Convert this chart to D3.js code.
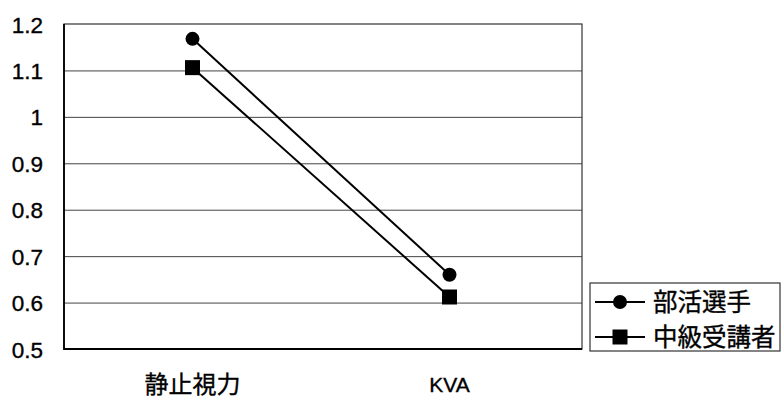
<!DOCTYPE html>
<html lang="ja">
<head>
  <meta charset="UTF-8">
  <title>静止視力とKVA</title>
  <style>
    body { margin: 0; background: #fff; }
    svg text {
      font-family: "Liberation Sans", Arial, "Noto Sans CJK JP", sans-serif;
      fill: #000;
      stroke: #000;
      stroke-width: 0.35px;
    }
    .grid line { stroke: #444; stroke-width: 1; }
  </style>
</head>
<body>
  <svg id="chart" width="782" height="398"></svg>

  <script src="https://d3js.org/d3.v7.min.js"></script>
  <script>
    // data
    const categories = ["静止視力", "KVA"];
    const seriesNames = ["部活選手", "中級受講者"];
    const bukatsu = [1.168, 0.660];
    const chukyu = [1.106, 0.612];
    const yTickValues = [0.5, 0.6, 0.7, 0.8, 0.9, 1.0, 1.1, 1.2];
    const yTickLabels = ["0.5", "0.6", "0.7", "0.8", "0.9", "1", "1.1", "1.2"];

    const svg = d3.select("#chart");
    const plotLeft = 64, plotTop = 24, plotRight = 582, plotBottom = 349;

    const x = d3.scaleBand()
      .domain(categories)
      .range([plotLeft, plotRight - 4]);

    const y = d3.scaleLinear()
      .domain([0.5, 1.2])
      .range([plotBottom, plotTop]);

    // horizontal grid lines
    const grid = d3.axisLeft(y)
      .tickValues(yTickValues.slice(1, -1))
      .tickSize(-(plotRight - plotLeft))
      .tickFormat("");
    svg.append("g")
      .attr("class", "grid")
      .attr("transform", `translate(${plotLeft},0)`)
      .call(grid)
      .call(g => g.select(".domain").remove());

    // plot frame
    svg.append("rect")
      .attr("x", plotLeft)
      .attr("y", plotTop)
      .attr("width", plotRight - plotLeft)
      .attr("height", plotBottom - plotTop)
      .attr("fill", "none")
      .attr("stroke", "#333")
      .attr("stroke-width", 1.2);
    svg.append("path")
      .attr("d", `M${plotLeft},${plotTop}V${plotBottom}H${plotRight}`)
      .attr("fill", "none")
      .attr("stroke", "#000")
      .attr("stroke-width", 1.8);

    // y tick labels
    const yAxis = d3.axisLeft(y)
      .tickValues(yTickValues)
      .tickFormat((d, i) => yTickLabels[i])
      .tickSize(0)
      .tickPadding(0);
    svg.append("g")
      .attr("transform", "translate(43,0)")
      .call(yAxis)
      .call(g => g.select(".domain").remove())
      .call(g => g.selectAll("text")
        .attr("font-size", 22.5)
        .attr("font-family", null)
        .attr("fill", null)
        .attr("dy", "0.36em"));

    // x category labels (CJK label drawn larger, like the original mixed fonts)
    const xAxis = d3.axisBottom(x)
      .tickSize(0)
      .tickPadding(0);
    svg.append("g")
      .attr("transform", `translate(0,${plotBottom})`)
      .call(xAxis)
      .call(g => g.select(".domain").remove())
      .call(g => g.selectAll("text")
        .attr("font-size", d => /[^\x00-\x7f]/.test(d) ? 24 : 21)
        .attr("font-family", null)
        .attr("fill", null)
        .attr("y", 35)
        .attr("dy", "0.36em"));

    const series = [
      { name: seriesNames[0], values: bukatsu, shape: "circle" },
      { name: seriesNames[1], values: chukyu, shape: "square" }
    ];

    const cx = c => x(c) + x.bandwidth() / 2;

    const line = d3.line()
      .x((d, i) => cx(categories[i]))
      .y(d => y(d));

    function drawMarker(g, shape, px, py) {
      if (shape === "circle") {
        g.append("circle").attr("cx", px).attr("cy", py).attr("r", 7).attr("fill", "#000");
      } else {
        g.append("rect").attr("x", px - 7.5).attr("y", py - 7.5)
          .attr("width", 15).attr("height", 15).attr("fill", "#000");
      }
    }

    series.forEach(s => {
      const g = svg.append("g");
      g.append("path")
        .datum(s.values)
        .attr("d", line)
        .attr("fill", "none")
        .attr("stroke", "#000")
        .attr("stroke-width", 2);
      s.values.forEach((v, i) => drawMarker(g, s.shape, cx(categories[i]), y(v)));
    });

    // legend
    const legend = svg.append("g");
    legend.append("rect")
      .attr("x", 590)
      .attr("y", 283)
      .attr("width", 190)
      .attr("height", 68)
      .attr("fill", "#fff")
      .attr("stroke", "#333")
      .attr("stroke-width", 1.2);

    series.forEach((s, i) => {
      const ly = 302 + i * 35;
      legend.append("line")
        .attr("x1", 595).attr("x2", 645)
        .attr("y1", ly).attr("y2", ly)
        .attr("stroke", "#000").attr("stroke-width", 2);
      drawMarker(legend, s.shape, 620, ly);
      legend.append("text")
        .attr("x", 653)
        .attr("y", ly)
        .attr("dy", "0.36em")
        .attr("font-size", 24.5)
        .text(s.name);
    });
  </script>
</body>
</html>
